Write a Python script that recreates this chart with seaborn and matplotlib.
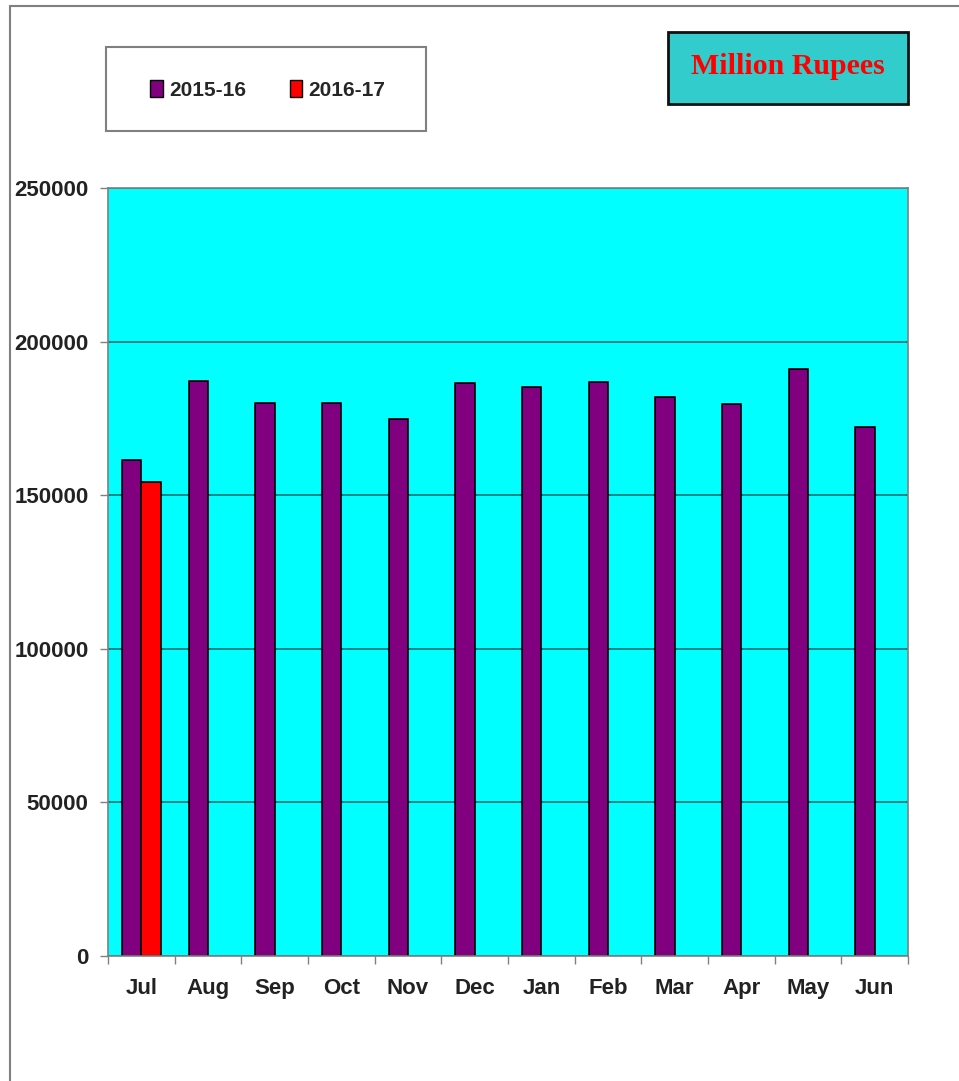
import matplotlib
matplotlib.use("Agg")
import matplotlib.pyplot as plt
from matplotlib.patches import Rectangle
import numpy as np
import pandas as pd
import seaborn as sns

months = ["Jul", "Aug", "Sep", "Oct", "Nov", "Dec", "Jan", "Feb", "Mar", "Apr", "May", "Jun"]
sales_2015_16 = [161500, 187300, 180100, 180100, 174900, 186600, 185300, 186900, 181900, 179700, 191100, 172100]
sales_2016_17 = [154200, np.nan, np.nan, np.nan, np.nan, np.nan, np.nan, np.nan, np.nan, np.nan, np.nan, np.nan]
years = ["2015-16", "2016-17"]
colors = ["#800080", "#FF0000"]
y_ticks = [0, 50000, 100000, 150000, 200000, 250000]

df = pd.DataFrame({
    "month": months * 2,
    "value": sales_2015_16 + sales_2016_17,
    "year": [years[0]] * len(months) + [years[1]] * len(months),
})

sns.set_style("white")
plt.rcParams["font.family"] = ["Liberation Sans", "DejaVu Sans"]

fig = plt.figure(figsize=(9.59, 10.81), dpi=100)
ax = fig.add_axes([108 / 959, 125 / 1081, 800 / 959, 768 / 1081])
ax.set_facecolor("#00FFFF")

sns.barplot(data=df, x="month", y="value", hue="year", palette=colors, saturation=1,
            width=0.58, edgecolor="black", linewidth=1.2, ax=ax, legend=False)

ax.set_ylim(0, 250000)
ax.set_xlim(-0.5, len(months) - 0.5)
ax.set_yticks(y_ticks)
ax.set_yticklabels([str(v) for v in y_ticks], fontsize=16, fontweight="bold", color="#222222")
ax.tick_params(axis="y", length=6, width=1, color="#808080", pad=8, left=True)
ax.yaxis.grid(True, color="#007070", linewidth=1.2)
ax.set_axisbelow(True)

# boundary ticks without labels, month labels on minor ticks
ax.set_xticks(np.arange(-0.5, len(months), 1))
ax.set_xticklabels([])
ax.tick_params(axis="x", which="major", length=6, width=1, color="#808080", bottom=True)
ax.set_xticks(np.arange(len(months)), minor=True)
ax.set_xticklabels(months, minor=True, fontsize=16, fontweight="bold", color="#222222")
ax.tick_params(axis="x", which="minor", length=0, pad=16)

ax.set_xlabel("")
ax.set_ylabel("")
for side in ["left", "right", "top", "bottom"]:
    ax.spines[side].set_visible(True)
    ax.spines[side].set_color("#808080")
    ax.spines[side].set_linewidth(1.2)

# outer frame (left and top edges visible)
fig.add_artist(plt.Line2D([10 / 959, 10 / 959], [0, 1 - 6 / 1081], color="#808080", linewidth=1.5))
fig.add_artist(plt.Line2D([10 / 959, 1], [1 - 6 / 1081, 1 - 6 / 1081], color="#808080", linewidth=1.5))

# legend box
fig.add_artist(Rectangle((106 / 959, 1 - 131 / 1081), 320 / 959, 84 / 1081, transform=fig.transFigure,
                         facecolor="white", edgecolor="#808080", linewidth=1.5))
handles = [Rectangle((0, 0), 1, 1, facecolor=c, edgecolor="black", linewidth=1) for c in colors]
fig.legend(handles, years, loc="center", bbox_to_anchor=(268 / 959, 1 - 90 / 1081), ncol=2, frameon=False,
           prop={"family": "Liberation Sans", "weight": "bold", "size": 15},
           handlelength=0.6, handleheight=0.85, handletextpad=0.3, columnspacing=2.1)

# unit box
fig.add_artist(Rectangle((668 / 959, 1 - 104 / 1081), 240 / 959, 72 / 1081, transform=fig.transFigure,
                         facecolor="#33CCCC", edgecolor="#111111", linewidth=2))
fig.text(788 / 959, 1 - 66 / 1081, "Million Rupees", ha="center", va="center", color="#FF0000",
         fontsize=21.5, fontweight="bold", family=["Liberation Serif", "DejaVu Serif"])

fig.savefig("out.png", dpi=100)
plt.close(fig)
